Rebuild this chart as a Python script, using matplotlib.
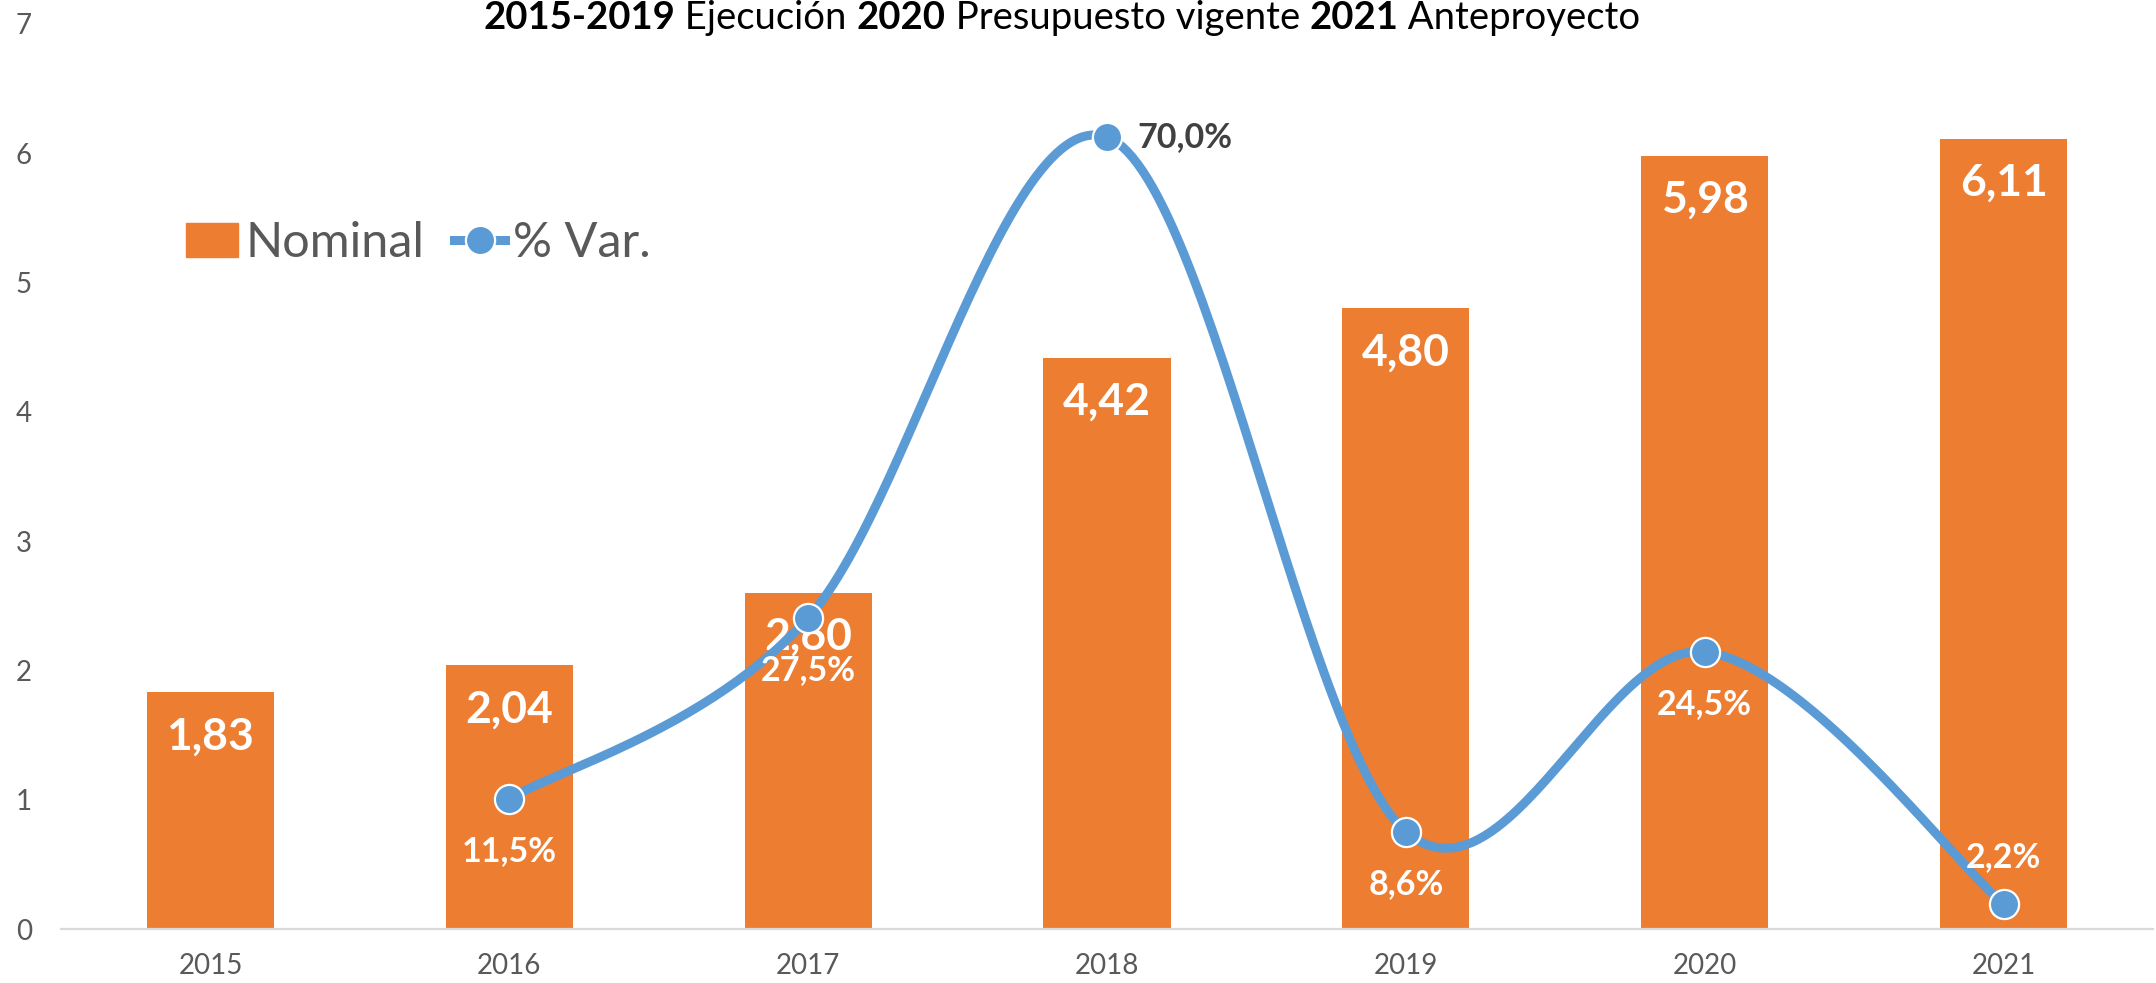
import numpy as np
import matplotlib
matplotlib.use("Agg")
import matplotlib.pyplot as plt
from matplotlib.lines import Line2D
from matplotlib.patches import Patch

plt.rcParams['font.family'] = ['Lato', 'DejaVu Sans']

# data
years = ['2015', '2016', '2017', '2018', '2019', '2020', '2021']
nominal = [1.83, 2.04, 2.60, 4.42, 4.80, 5.98, 6.11]
var_years = ['2016', '2017', '2018', '2019', '2020', '2021']
var_pct = [11.5, 27.5, 70.0, 8.6, 24.5, 2.2]
var_pos = ['below', 'below', 'right', 'below', 'below', 'above']

ORANGE = '#ED7D31'
BLUE = '#5B9BD5'
GREY = '#595959'


def smooth(xs, ys, n=60):
    # excel-like smoothed line (catmull-rom as cubic bezier)
    p = np.column_stack([xs, ys]).astype(float)
    p = np.vstack([p[0], p, p[-1]])
    out = []
    for i in range(1, len(p) - 2):
        p0, p1, p2, p3 = p[i - 1], p[i], p[i + 1], p[i + 2]
        c1 = p1 + (p2 - p0) / 6
        c2 = p2 - (p3 - p1) / 6
        t = np.linspace(0, 1, n)[:, None]
        seg = ((1 - t) ** 3) * p1 + 3 * ((1 - t) ** 2) * t * c1 + 3 * (1 - t) * t ** 2 * c2 + t ** 3 * p2
        out.append(seg if i == 1 else seg[1:])
    seg = np.vstack(out)
    return seg[:, 0], seg[:, 1]


def fmt(v, d):
    return f'{v:.{d}f}'.replace('.', ',')


fig = plt.figure(figsize=(21.56, 9.83), dpi=100)
ax = fig.add_axes([0.0283, 0.0549, 0.9703, 0.9207])

x = np.arange(len(years))
ax.bar(x, nominal, width=0.425, color=ORANGE, zorder=2)
ax.set_xlim(-0.5, len(years) - 0.5)
ax.set_ylim(0, 7)
ax.set_yticks(range(8))
ax.set_xticks(x)
ax.set_xticklabels(years)
ax.tick_params(axis='both', length=0, labelsize=20, labelcolor=GREY)
ax.tick_params(axis='y', pad=21)
ax.tick_params(axis='x', pad=17)
for s in ['top', 'right', 'left']:
    ax.spines[s].set_visible(False)
ax.spines['bottom'].set_color('#D9D9D9')
ax.spines['bottom'].set_linewidth(1.6)

for xi, v in zip(x, nominal):
    ax.annotate(fmt(v, 2), (xi, v), xytext=(0, -41), textcoords='offset points',
                ha='center', va='baseline', color='white', fontsize=32,
                fontweight='bold', zorder=3)

# % var on a hidden secondary axis
ax2 = ax.twinx()
ax2.set_ylim(0, 80)
ax2.axis('off')
vx = np.array([years.index(y) for y in var_years])
sx, sy = smooth(vx, var_pct)
ax2.plot(sx, sy, color=BLUE, lw=6.5, solid_capstyle='round', zorder=4)
ax2.plot(vx, var_pct, 'o', color=BLUE, ms=21, mec='white', mew=1.6, zorder=5)

for xi, v, pos in zip(vx, var_pct, var_pos):
    label = fmt(v, 1) + '%'
    if pos == 'below':
        ax2.annotate(label, (xi, v), xytext=(0, -45), textcoords='offset points',
                     ha='center', va='baseline', color='white', fontsize=24.5,
                     fontweight='bold', zorder=6)
    elif pos == 'above':
        ax2.annotate(label, (xi, v), xytext=(0, 27), textcoords='offset points',
                     ha='center', va='baseline', color='white', fontsize=24.5,
                     fontweight='bold', zorder=6)
    else:
        ax2.annotate(label, (xi, v), xytext=(22, 0), textcoords='offset points',
                     ha='left', va='center', color='#404040', fontsize=24.5,
                     fontweight='bold', zorder=6)

handles = [Patch(color=ORANGE, label='Nominal'),
           Line2D([], [], color=BLUE, lw=6.5, marker='o', ms=21, mec='white',
                  mew=1.6, label='% Var.')]
leg = ax2.legend(handles=handles, loc='center', bbox_to_anchor=(0.171, 0.758),
                 ncol=2, frameon=False, fontsize=35, handlelength=1.05,
                 handletextpad=0.16, columnspacing=0.62, borderpad=0)
for t in leg.get_texts():
    t.set_color(GREY)

# title with mixed bold / regular parts
parts = [('2015-2019', 'bold'), (' Ejecución ', 'normal'), ('2020', 'bold'),
         (' Presupuesto vigente ', 'normal'), ('2021', 'bold'), (' Anteproyecto', 'normal')]
fig.canvas.draw()
r = fig.canvas.get_renderer()
texts = []
xpos = 0
for s, w in parts:
    t = fig.text(0, 0.9705, s, fontsize=27.5, fontweight=w, color='black', va='baseline', ha='left')
    bb = t.get_window_extent(r)
    t.set_x(xpos / fig.bbox.width)
    texts.append(t)
    xpos += bb.width
start = 0.4926 * fig.bbox.width - xpos / 2
for t in texts:
    t.set_x(t.get_position()[0] + start / fig.bbox.width)

fig.savefig('out.png', dpi=100)
